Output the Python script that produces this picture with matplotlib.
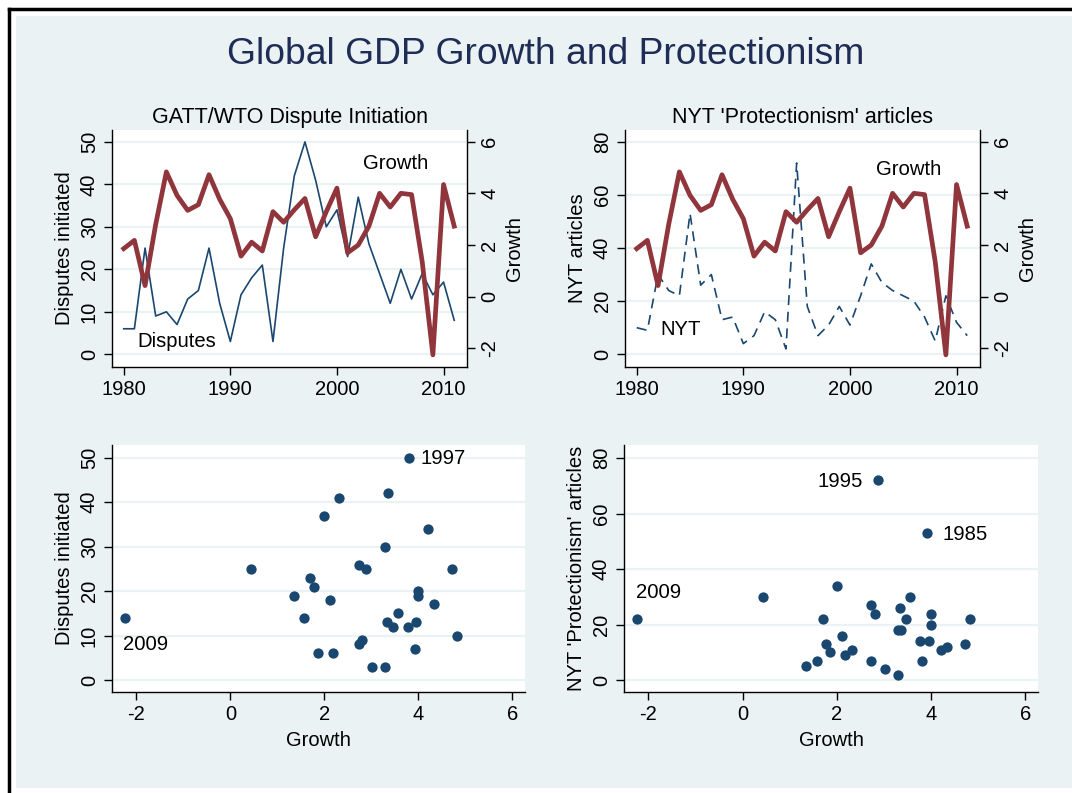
import matplotlib
matplotlib.use("Agg")
import matplotlib.pyplot as plt
from matplotlib.patches import Rectangle
from matplotlib.lines import Line2D

plt.rcParams['font.family'] = ['Liberation Sans', 'DejaVu Sans']
plt.rcParams['axes.unicode_minus'] = False

# Data, 1980-2011
years = list(range(1980, 2012))
growth = [1.86, 2.18, 0.43, 2.80, 4.83, 3.92, 3.34, 3.56, 4.72, 3.77,
          3.02, 1.57, 2.11, 1.77, 3.29, 2.88, 3.36, 3.80, 2.32, 3.29,
          4.20, 1.70, 2.00, 2.73, 4.00, 3.47, 4.00, 3.95, 1.35, -2.25,
          4.34, 2.73]
disputes = [6, 6, 25, 9, 10, 7, 13, 15, 25, 12,
            3, 14, 18, 21, 3, 25, 42, 50, 41, 30,
            34, 23, 37, 26, 19, 12, 20, 13, 19, 14,
            17, 8]
nyt = [10, 9, 30, 24, 22, 53, 26, 30, 13, 14,
       4, 7, 16, 13, 2, 72, 18, 7, 11, 18,
       11, 22, 34, 27, 24, 22, 20, 14, 5, 22,
       12, 7]

# Colours (Stata s2color)
navy = '#1a476f'
maroon = '#90353b'
bg = '#eaf2f3'
title_col = '#1f2d56'

W, H = 1072, 793
fig = plt.figure(figsize=(W / 100, H / 100), dpi=100, facecolor='white')


def rect(l, t, r, b):
    return [l / W, 1 - b / H, (r - l) / W, (b - t) / H]


# background panel and the black frame lines (kept behind the axes)
fig.patches.append(Rectangle((16 / W, 1 - 788 / H), 1, (788 - 16) / H,
                             transform=fig.transFigure, facecolor=bg,
                             edgecolor='none', zorder=-10))
fig.lines.append(Line2D([8.5 / W, 1], [1 - 8.5 / H, 1 - 8.5 / H],
                        transform=fig.transFigure, color='black', lw=2.5,
                        zorder=-5))
fig.lines.append(Line2D([8.5 / W, 8.5 / W], [0, 1 - 8.5 / H],
                        transform=fig.transFigure, color='black', lw=2.5,
                        zorder=-5))

fig.text(546 / W, 1 - 55 / H, 'Global GDP Growth and Protectionism',
         ha='center', va='center', fontsize=26.8, color=title_col)

tick_fs = 14.5
lab_fs = 14.5
note_fs = 14.6


def style_axes(ax, right=False):
    ax.set_facecolor('white')
    ax.spines['top'].set_visible(False)
    ax.spines['right'].set_visible(right)
    for s in ax.spines.values():
        s.set_linewidth(1.0)
    ax.tick_params(direction='out', length=6, width=1, labelsize=tick_fs,
                   color='black')
    ax.tick_params(axis='y', labelrotation=90)
    for lab in ax.get_yticklabels():
        lab.set_va('center')
    ax.grid(axis='y', color=bg, lw=1.6)
    ax.set_axisbelow(True)


def time_panel(box, series, yticks, ylim, ylabel, title, dash, lbl, lbl_xy,
               g_xy):
    ax = fig.add_axes(rect(*box))
    ax.plot(years, series, color=navy, lw=1.2, ls=dash, zorder=2)
    ax.set_xlim(1978.9, 2012.2)
    ax.set_ylim(*ylim)
    ax.set_xticks([1980, 1990, 2000, 2010])
    ax.set_yticks(yticks)
    style_axes(ax)
    ax.set_ylabel(ylabel, fontsize=lab_fs)
    ax.set_title(title, fontsize=15.5, pad=5)
    ax.text(lbl_xy[0], lbl_xy[1], lbl, fontsize=note_fs, va='center')

    ax2 = ax.twinx()
    ax2.plot(years, growth, color=maroon, lw=3.4, zorder=3)
    ax2.set_ylim(-2.72, 6.45)
    ax2.set_yticks([-2, 0, 2, 4, 6])
    ax2.spines['top'].set_visible(False)
    ax2.spines['left'].set_visible(False)
    ax2.spines['bottom'].set_visible(False)
    ax2.spines['right'].set_linewidth(1.0)
    ax2.tick_params(direction='out', length=6, width=1, labelsize=tick_fs)
    ax2.tick_params(axis='y', labelrotation=90)
    for lab in ax2.get_yticklabels():
        lab.set_va('center')
    ax2.set_ylabel('Growth', fontsize=lab_fs)
    ax2.text(g_xy[0], g_xy[1], 'Growth', fontsize=note_fs, va='center')
    return ax


time_panel((112, 130, 467, 367), disputes, [0, 10, 20, 30, 40, 50],
           (-3.0, 52.8), 'Disputes initiated', 'GATT/WTO Dispute Initiation',
           '-', 'Disputes', (1981.3, 3.0), (2002.4, 5.14))
time_panel((625, 130, 980, 367), nyt, [0, 20, 40, 60, 80],
           (-4.8, 84.4), 'NYT articles', "NYT 'Protectionism' articles",
           (0, (6, 4)), 'NYT', (1982.2, 9.5), (2002.4, 4.91))


def scatter_panel(box, yvals, yticks, ylim, ylabel, labels):
    ax = fig.add_axes(rect(*box))
    ax.scatter(growth, yvals, s=55, color=navy, zorder=3, linewidths=0)
    ax.set_xlim(-2.52, 6.27)
    ax.set_ylim(*ylim)
    ax.set_xticks([-2, 0, 2, 4, 6])
    ax.set_yticks(yticks)
    style_axes(ax)
    ax.set_ylabel(ylabel, fontsize=lab_fs)
    ax.set_xlabel('Growth', fontsize=lab_fs, labelpad=5)
    for txt, x, y, ha in labels:
        ax.text(x, y, txt, fontsize=note_fs, va='center', ha=ha)
    return ax


scatter_panel((112, 445, 525, 692), disputes, [0, 10, 20, 30, 40, 50],
              (-2.7, 52.9), 'Disputes initiated',
              [('1997', 4.05, 49.9, 'left'), ('2009', -2.28, 7.9, 'left')])
scatter_panel((624, 445, 1038, 692), nyt, [0, 20, 40, 60, 80],
              (-4.3, 84.8), "NYT 'Protectionism' articles",
              [('1995', 2.56, 71.6, 'right'), ('1985', 4.24, 52.6, 'left'),
               ('2009', -2.27, 31.6, 'left')])

fig.savefig('out.png', dpi=100, facecolor='white')
